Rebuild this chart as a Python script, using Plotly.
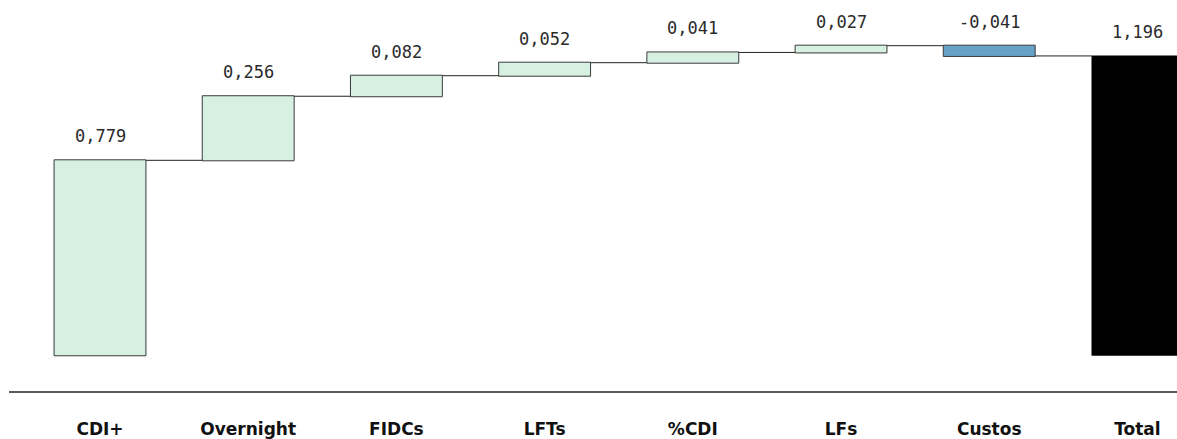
import plotly.graph_objects as go

categories = ["CDI+", "Overnight", "FIDCs", "LFTs", "%CDI", "LFs", "Custos", "Total"]
values = [0.779, 0.256, 0.082, 0.052, 0.041, 0.027, -0.041, 1.196]
measures = ["relative"] * 7 + ["total"]

GREEN = "#d6f0e2"
BLUE = "#67a3c7"
EDGE = "#3a3a3a"

fig = go.Figure()
fig.add_trace(go.Waterfall(
    x=categories,
    y=values,
    measure=measures,
    width=0.62,
    increasing=dict(marker=dict(color=GREEN, line=dict(color=EDGE, width=1))),
    decreasing=dict(marker=dict(color=BLUE, line=dict(color=EDGE, width=1))),
    totals=dict(marker=dict(color="#000000", line=dict(color="#000000", width=0))),
    connector=dict(mode="between", line=dict(color="#222222", width=1)),
    showlegend=False,
    hoverinfo="skip",
))

# labels at the top of each bar
level = 0.0
for cat, v, m in zip(categories, values, measures):
    if m == "total":
        top = v
    else:
        top = max(level, level + v)
        level += v
    fig.add_annotation(
        x=cat, y=top, text=f"{v:.3f}".replace(".", ","),
        showarrow=False, yanchor="bottom", yshift=12,
        font=dict(family="DejaVu Sans Mono", size=17, color="#2a2a2a"),
    )

fig.update_layout(
    width=1177, height=439,
    margin=dict(l=9, r=0, t=0, b=44),
    paper_bgcolor="white", plot_bgcolor="white",
    xaxis=dict(
        type="category",
        range=[-0.614, 7.267],
        showgrid=False, zeroline=False,
        showline=True, linecolor="#5a5a5a", linewidth=2,
        ticks="", ticklabelstandoff=22,
        tickfont=dict(family="DejaVu Sans", size=17, color="#111111", weight="bold"),
    ),
    yaxis=dict(
        range=[-0.1427, 1.4195],
        visible=False, showgrid=False, zeroline=False,
    ),
)

fig.write_html("out.html")
